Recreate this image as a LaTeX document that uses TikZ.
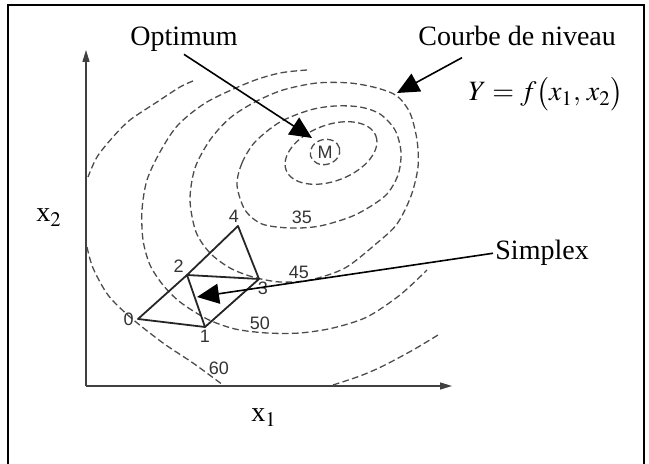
\documentclass[tikz,border=0pt]{standalone}
\usepackage{mathptmx}
\usepackage{fontspec}
\setmainfont{Liberation Serif}
\newfontfamily\digitfont{Liberation Sans}
\usetikzlibrary{arrows.meta,positioning}

\begin{document}
\begin{tikzpicture}[x=0.5pt,y=-0.5pt,
	txt/.style={inner sep=1pt, font=\fontsize{14}{16}\selectfont},
	num/.style={inner sep=0.5pt, text=black!80, font=\digitfont\fontsize{9}{10}\selectfont},
	contour/.style={black!70, line width=0.65pt, dash pattern=on 3.3pt off 1.7pt},
	axis/.style={black!75, line width=0.7pt, -{Triangle[length=6pt,width=3.5pt]}},
	side/.style={black!85, line width=0.9pt, line join=round},
	pointer/.style={line width=0.8pt, -{Triangle[length=11pt,width=10pt]}}]
	\useasboundingbox (0,0) rectangle (649,464);
	\draw [line width=1.3pt] (8,464) -- (8,5) -- (644,5) -- (644,464);
	
	% axes
	\coordinate (O) at (86,386);
	\coordinate (xend) at (452,386);
	\coordinate (yend) at (86,50);
	\draw [axis] (O) -- (xend);
	\draw [axis] (O) -- (yend);
	\node [txt, anchor=base west] (xtwo) at (34,222) {x$_2$};
	\node [txt, anchor=base west] (xone) at (249,422) {x$_1$};
	
	% level curves
	\draw [contour, rotate around={15:(325,152)}] (325,152) ellipse (15 and 12.5);
	\draw [contour, rotate around={21:(331,153)}] (331,153) ellipse (48 and 28);
	\draw [contour] plot [smooth cycle] coordinates {(237,185) (242,163) (255,142) (280,122) (310,110) (335,106) (360,107) (380,114) (395,130) (401,152) (398,175) (385,196) (355,215) (320,226) (290,228) (262,224) (245,210)};
	\draw [contour] plot [smooth cycle] coordinates {(190,200) (195,168) (210,140) (230,118) (255,102) (283,90) (317,83) (350,83) (377,88) (397,96) (410,113) (417,140) (418,167) (411,196) (397,224) (377,243) (345,268) (310,280) (280,282) (253,277) (230,268) (210,253) (196,232)};
	\draw [contour] plot [smooth] coordinates {(307,70) (280,73) (250,82) (207,102) (178,125) (160,152) (147,180) (142,210) (143,240) (150,265) (163,285) (180,302) (207,319) (235,329) (267,333) (300,333) (333,328) (367,317) (400,295) (427,270)};
	\draw [contour] plot [smooth] coordinates {(193,81) (180,87) (157,102) (130,120) (113,137) (97,157) (88,177)};
	\draw [contour] plot [smooth] coordinates {(87,247) (93,268) (108,295) (130,317) (163,343) (193,363) (223,385)};
	\draw [contour] plot [smooth] coordinates {(333,385) (360,376) (383,366) (413,350) (438,335)};
	\node [num] (M) at (325,152) {M};
	\node [num] (l35) at (302,217) {35};
	\node [num] (l45) at (299,272) {45};
	\node [num] (l50) at (260,323) {50};
	\node [num] (l60) at (219,368) {60};
	
	% simplex
	\coordinate (s0) at (138,319);
	\coordinate (s1) at (205,327);
	\coordinate (s2) at (187,275);
	\coordinate (s3) at (259,279);
	\coordinate (s4) at (238,226);
	\draw [side] (s0) -- (s1) -- (s2) -- cycle;
	\draw [side] (s1) -- (s3) -- (s2);
	\draw [side] (s2) -- (s4) -- (s3);
	\node [num, left=1.5pt of s0] (v0) {0};
	\node [num, below=1pt of s1] (v1) {1};
	\node [num, above left=0.5pt and 1pt of s2] (v2) {2};
	\node [num, below=1pt of s3, xshift=2pt] (v3) {3};
	\node [num, above=1pt of s4, xshift=-2pt] (v4) {4};
	
	% labels and arrows
	\node [txt, anchor=base] (optimum) at (184,46) {Optimum};
	\coordinate (optpt) at (312,138);
	\draw [pointer] (optimum.south) -- (optpt);
	
	\node [txt, anchor=base west] (courbe) at (416,46) {Courbe de niveau};
	\coordinate (levelpt) at (397,93);
	\draw [pointer] ([shift={(23pt,-4.5pt)}]courbe.south west) -- (levelpt);
	\node [txt, inner sep=0pt] (fxy) at (546,94) {$Y=f\bigl(x_1,\,x_2\bigr)$};
	
	\node [txt, anchor=base west] (simplex) at (493,260) {Simplex};
	\coordinate (simplexpt) at (197,297);
	\draw [pointer] (simplex.west) -- (simplexpt);
\end{tikzpicture}
\end{document}
